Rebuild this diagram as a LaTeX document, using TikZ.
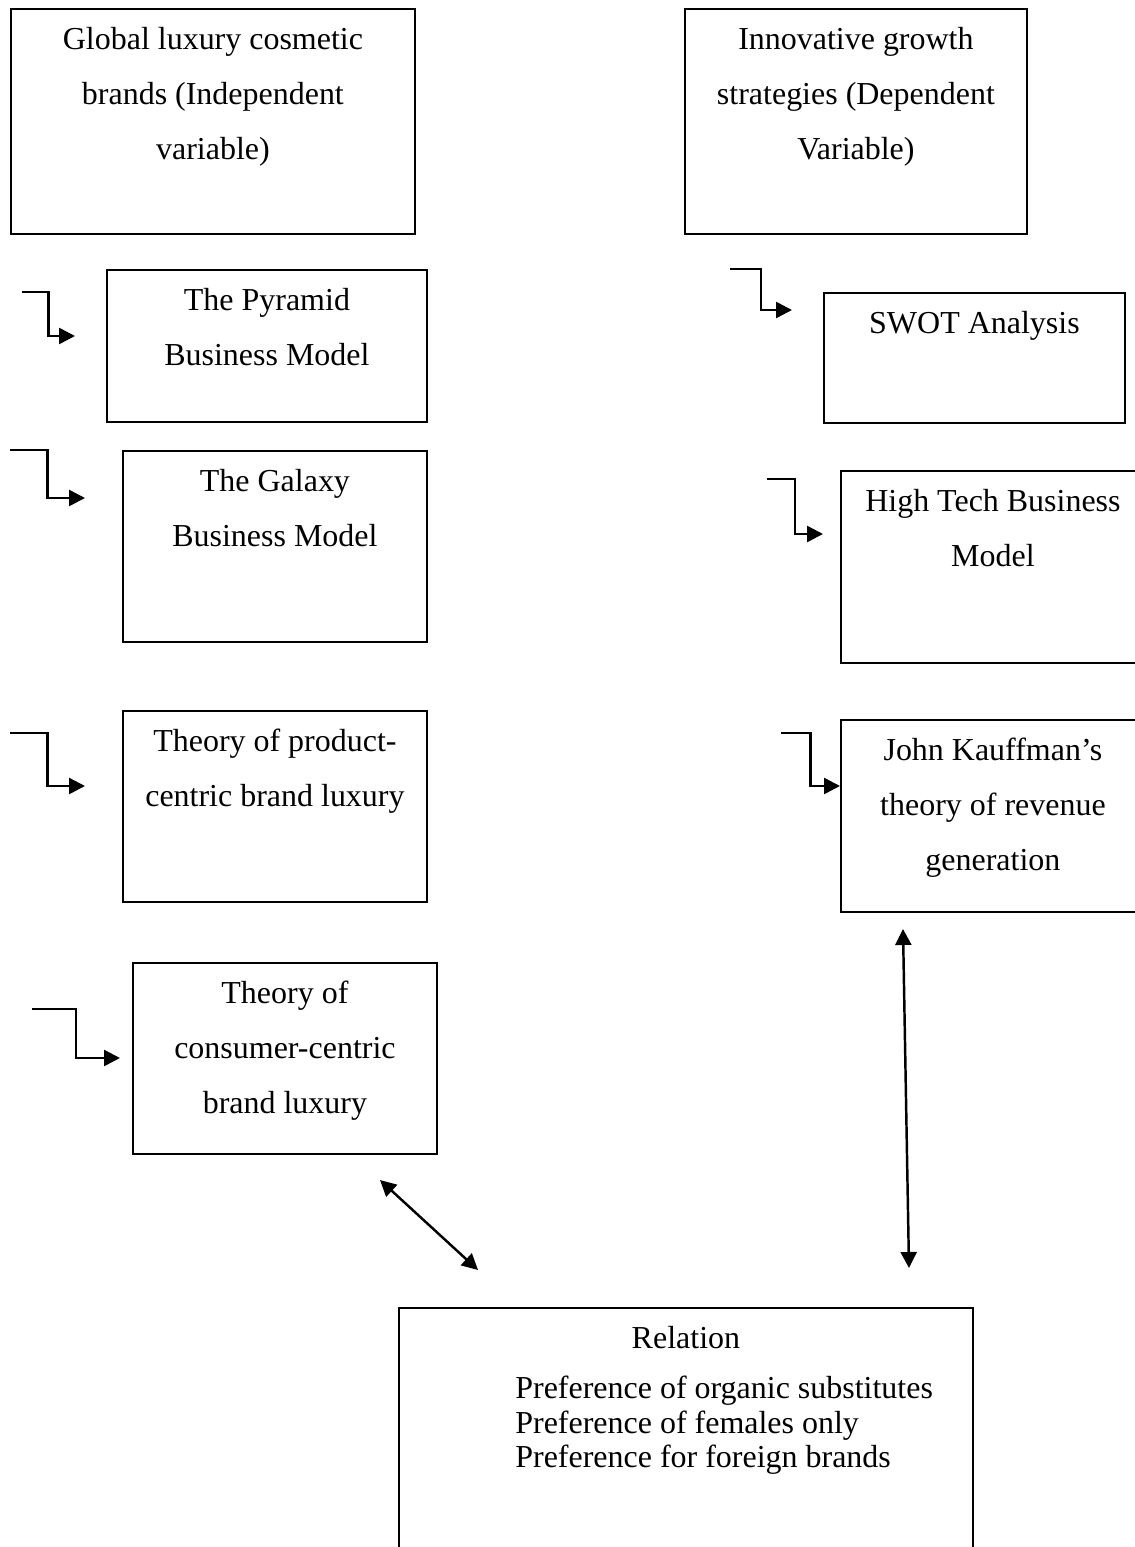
\documentclass[tikz,border=0pt]{standalone}
\usepackage{fontspec}
\setmainfont{Liberation Serif}
\usetikzlibrary{positioning, arrows.meta, calc}

\begin{document}
\begin{tikzpicture}[x=0.02cm, y=-0.02cm,
  every node/.style={font=\fontsize{18.2}{31.3}\selectfont},
  box/.style={draw, line width=1.1pt, anchor=north west, inner sep=0pt},
  boxtext/.style={align=center, inner sep=0pt},
  listtext/.style={align=left, inner sep=0pt, font=\fontsize{18.2}{19.6}\selectfont},
  link/.style={line width=1.4pt, -{Triangle[length=0.32cm, width=0.32cm]}},
  both/.style={line width=1.4pt, {Triangle[length=0.32cm, width=0.32cm]}-{Triangle[length=0.32cm, width=0.32cm]}},
  elbow/.style={to path={-| ($(\tikztostart)!0.5!(\tikztotarget)$) |- (\tikztotarget)}}]
  \useasboundingbox (0,0) rectangle (1134,1547);

  % variables
  \node[box, minimum width=8.08cm, minimum height=4.5cm] (global) at (10,8) {};
  \node[boxtext, below=0.38cm of global.north] (globaltext) {Global luxury cosmetic\\brands (Independent\\variable)};
  \node[box, minimum width=6.84cm, minimum height=4.5cm] (innov) at (684,8) {};
  \node[boxtext, below=0.38cm of innov.north] (innovtext) {Innovative growth\\strategies (Dependent\\Variable)};

  % left column
  \node[box, minimum width=6.4cm, minimum height=3.04cm] (pyr) at (106,269) {};
  \node[boxtext, below=0.38cm of pyr.north] (pyrtext) {The Pyramid\\Business Model};
  \node[box, minimum width=6.08cm, minimum height=3.82cm] (gal) at (122,450) {};
  \node[boxtext, below=0.38cm of gal.north] (galtext) {The Galaxy\\Business Model};
  \node[box, minimum width=6.08cm, minimum height=3.82cm] (prod) at (122,710) {};
  \node[boxtext, below=0.38cm of prod.north] (prodtext) {Theory of product-\\centric brand luxury};
  \node[box, minimum width=6.08cm, minimum height=3.82cm] (cons) at (132,962) {};
  \node[boxtext, below=0.38cm of cons.north] (constext) {Theory of\\consumer-centric\\brand luxury};

  % right column
  \node[box, minimum width=6.02cm, minimum height=2.6cm] (swot) at (823,292) {};
  \node[boxtext, below=0.38cm of swot.north] (swottext) {SWOT Analysis};
  \node[box, minimum width=6.08cm, minimum height=3.84cm] (tech) at (840,470) {};
  \node[boxtext, below=0.38cm of tech.north] (techtext) {High Tech Business\\Model};
  \node[box, minimum width=6.08cm, minimum height=3.84cm] (kauf) at (840,719) {};
  \node[boxtext, below=0.38cm of kauf.north] (kauftext) {John Kauffman’s\\theory of revenue\\generation};

  % relation
  \node[box, minimum width=11.48cm, minimum height=5.6cm] (rel) at (398,1307) {};
  \node[boxtext, below=0.38cm of rel.north] (reltext) {Relation};
  \node[listtext, below right=1.38cm and 2.34cm of rel.north west] (prefs) {Preference of organic substitutes\\Preference of females only\\Preference for foreign brands};

  % elbow arrows
  \coordinate (pyrin) at (22,292);   \coordinate (pyrtip) at (75,336);
  \coordinate (galin) at (10,450);   \coordinate (galtip) at (85,498);
  \coordinate (prodin) at (10,733);  \coordinate (prodtip) at (85,786);
  \coordinate (consin) at (32,1009); \coordinate (constip) at (120,1058);
  \coordinate (swotin) at (730,269); \coordinate (swottip) at (792,310);
  \coordinate (techin) at (767,479); \coordinate (techtip) at (823,534);
  \coordinate (kaufin) at (781,733); \coordinate (kauftip) at (840,786);
  \draw[link] (pyrin) to[elbow] (pyrtip);
  \draw[link] (galin) to[elbow] (galtip);
  \draw[link] (prodin) to[elbow] (prodtip);
  \draw[link] (consin) to[elbow] (constip);
  \draw[link] (swotin) to[elbow] (swottip);
  \draw[link] (techin) to[elbow] (techtip);
  \draw[link] (kaufin) to[elbow] (kauftip);

  % relations
  \coordinate (consend) at (380,1180); \coordinate (relleft) at (478,1270);
  \coordinate (kaufend) at (903,929);  \coordinate (relright) at (909,1268);
  \draw[both] (consend) -- (relleft);
  \draw[both] (kaufend) -- (relright);
\end{tikzpicture}
\end{document}
